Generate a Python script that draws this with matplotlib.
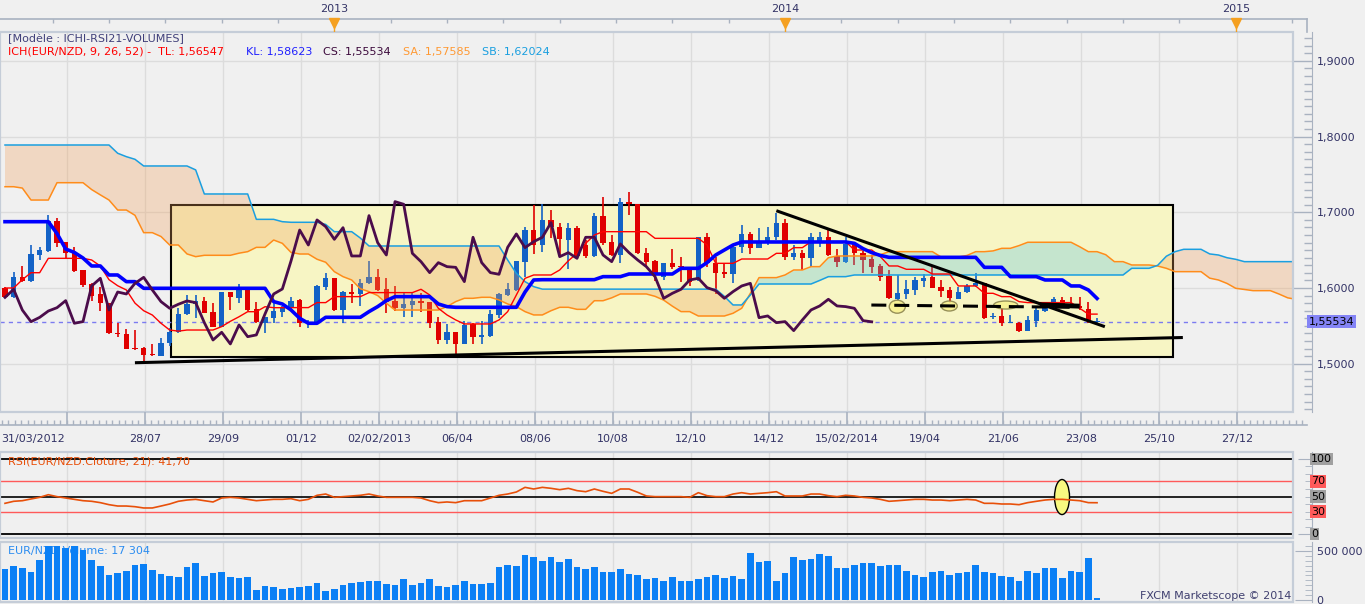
import numpy as np
import matplotlib
matplotlib.use("Agg")
import matplotlib.pyplot as plt
from matplotlib.patches import Rectangle, Ellipse
from matplotlib.ticker import MultipleLocator, FuncFormatter, FixedLocator

plt.rcParams['font.family'] = ['DejaVu Sans']
plt.rcParams['font.size'] = 8

# ---------------- data (weekly EUR/NZD) ----------------
opens = [1.5995,1.5885,1.6150,1.6097,1.6436,1.6493,1.6885,1.6603,1.6467,1.6238,
         1.6048,1.5916,1.5797,1.5410,1.5392,1.5207,1.5203,1.5124,1.5106,1.5269,
         1.5414,1.5652,1.5784,1.5832,1.5678,1.5489,1.5943,1.5872,1.5982,1.5718,
         1.5542,1.5608,1.5687,1.5741,1.5842,1.5525,1.5556,1.6018,1.6128,1.5710,
         1.5943,1.5921,1.6062,1.6141,1.5987,1.5829,1.5741,1.5776,1.5833,1.5816,
         1.5551,1.5313,1.5415,1.5261,1.5520,1.5357,1.5366,1.5648,1.5912,1.5974,
         1.6348,1.6766,1.6568,1.6899,1.6811,1.6634,1.6789,1.6568,1.6423,1.6956,
         1.6612,1.6436,1.7141,1.7110,1.6458,1.6357,1.6150,1.6326,1.6295,1.6260,
         1.6106,1.6670,1.6335,1.6216,1.6181,1.6538,1.6714,1.6533,1.6590,1.6670,
         1.6855,1.6414,1.6467,1.6392,1.6612,1.6670,1.6423,1.6348,1.6582,1.6467,
         1.6383,1.6291,1.6159,1.5851,1.5921,1.5974,1.6097,1.6141,1.6009,1.5974,
         1.5855,1.5952,1.6027,1.6062,1.5613,1.5631,1.5542,1.5542,1.5437,1.5569,
         1.5701,1.5763,1.5842,1.5776,1.5763,1.5723,1.5545]
highs = [1.6017,1.6216,1.6291,1.6568,1.6546,1.6964,1.6929,1.6612,1.6537,1.6238,
         1.6061,1.6017,1.5797,1.5533,1.5454,1.5445,1.5216,1.5260,1.5335,1.5467,
         1.5731,1.5907,1.5907,1.5885,1.5797,1.5951,1.5951,1.6053,1.6008,1.5819,
         1.5621,1.5797,1.5762,1.5877,1.5851,1.5578,1.6040,1.6203,1.6137,1.5961,
         1.6053,1.6119,1.6361,1.6247,1.6137,1.6027,1.5930,1.5930,1.5930,1.5816,
         1.5622,1.5520,1.5424,1.5565,1.5542,1.5569,1.5710,1.5930,1.6062,1.6357,
         1.6811,1.7097,1.7110,1.7031,1.6863,1.6855,1.6819,1.6634,1.6987,1.7207,
         1.6700,1.7185,1.7273,1.7110,1.6524,1.6370,1.6335,1.6511,1.6414,1.6273,
         1.6678,1.6731,1.6405,1.6326,1.6568,1.6833,1.6744,1.6789,1.6811,1.6995,
         1.6907,1.6568,1.6502,1.6722,1.6744,1.6766,1.6511,1.6678,1.6612,1.6494,
         1.6436,1.6317,1.6238,1.6172,1.6106,1.6141,1.6185,1.6273,1.6106,1.6018,
         1.6009,1.6053,1.6194,1.6071,1.5675,1.5732,1.5644,1.5556,1.5631,1.5763,
         1.5807,1.5877,1.5877,1.5877,1.5877,1.5820,1.5600]
lows = [1.5863,1.5863,1.6084,1.6084,1.6370,1.6480,1.6546,1.6392,1.6216,1.6017,
        1.5832,1.5700,1.5392,1.5357,1.5190,1.5181,1.4991,1.5106,1.5106,1.5234,
        1.5401,1.5643,1.5599,1.5665,1.5480,1.5480,1.5709,1.5806,1.5700,1.5533,
        1.5410,1.5542,1.5612,1.5701,1.5490,1.5468,1.5542,1.5974,1.5701,1.5534,
        1.5798,1.5763,1.6053,1.5965,1.5666,1.5701,1.5622,1.5613,1.5688,1.5476,
        1.5256,1.5256,1.5128,1.5256,1.5256,1.5261,1.5357,1.5600,1.5895,1.5965,
        1.6141,1.6450,1.6480,1.6656,1.6414,1.6247,1.6405,1.6392,1.6414,1.6568,
        1.6423,1.6335,1.6965,1.6449,1.6273,1.6097,1.6106,1.6247,1.6084,1.6031,
        1.6097,1.6273,1.5921,1.6128,1.6071,1.6458,1.6449,1.6524,1.6568,1.6634,
        1.6370,1.6370,1.6238,1.6273,1.6546,1.6423,1.6273,1.6326,1.6304,1.6203,
        1.6203,1.6097,1.5851,1.5842,1.5851,1.5908,1.6018,1.5996,1.5877,1.5798,
        1.5851,1.5930,1.6009,1.5587,1.5587,1.5498,1.5542,1.5424,1.5437,1.5481,
        1.5688,1.5732,1.5732,1.5732,1.5710,1.5542,1.5534]
closes = [1.5885,1.6150,1.6097,1.6449,1.6502,1.6885,1.6599,1.6458,1.6229,1.6040,
          1.5899,1.5797,1.5401,1.5388,1.5198,1.5194,1.5119,1.5110,1.5269,1.5414,
          1.5656,1.5788,1.5832,1.5674,1.5489,1.5943,1.5876,1.5982,1.5709,1.5555,
          1.5612,1.5696,1.5740,1.5833,1.5534,1.5556,1.6027,1.6128,1.5710,1.5947,
          1.5921,1.6062,1.6141,1.5974,1.5820,1.5732,1.5785,1.5829,1.5807,1.5542,
          1.5313,1.5415,1.5261,1.5512,1.5357,1.5380,1.5657,1.5921,1.5987,1.6357,
          1.6766,1.6568,1.6899,1.6811,1.6643,1.6797,1.6423,1.6423,1.6956,1.6599,
          1.6436,1.7141,1.7106,1.6458,1.6348,1.6203,1.6335,1.6282,1.6273,1.6084,
          1.6670,1.6335,1.6203,1.6181,1.6538,1.6714,1.6533,1.6612,1.6670,1.6863,
          1.6414,1.6467,1.6392,1.6670,1.6670,1.6436,1.6348,1.6582,1.6467,1.6370,
          1.6282,1.6150,1.5864,1.5930,1.5983,1.6106,1.6128,1.6005,1.5965,1.5864,
          1.5952,1.6027,1.6062,1.5608,1.5631,1.5542,1.5556,1.5437,1.5578,1.5710,
          1.5763,1.5851,1.5763,1.5754,1.5732,1.5569,1.55534]

tenkan = [1.6000,1.6000,1.6110,1.6202,1.6202,1.6392,1.6392,1.6392,1.6392,1.6392,
          1.6370,1.6290,1.6110,1.6030,1.5974,1.5800,1.5700,1.5643,1.5534,1.5445,
          1.5430,1.5445,1.5445,1.5445,1.5445,1.5490,1.5560,1.5620,1.5687,1.5687,
          1.5753,1.5740,1.5740,1.5741,1.5741,1.5741,1.5807,1.5807,1.5886,1.5886,
          1.5886,1.5886,1.5939,1.5939,1.5939,1.5939,1.5939,1.5939,1.5983,1.5908,
          1.5732,1.5644,1.5578,1.5525,1.5525,1.5525,1.5525,1.5578,1.5688,1.5908,
          1.6128,1.6172,1.6172,1.6172,1.6238,1.6360,1.6458,1.6590,1.6700,1.6744,
          1.6744,1.6744,1.6744,1.6744,1.6744,1.6656,1.6656,1.6656,1.6656,1.6656,
          1.6656,1.6570,1.6326,1.6326,1.6326,1.6383,1.6383,1.6383,1.6383,1.6458,
          1.6458,1.6533,1.6533,1.6612,1.6612,1.6612,1.6612,1.6612,1.6502,1.6502,
          1.6502,1.6414,1.6291,1.6291,1.6247,1.6247,1.6247,1.6185,1.6185,1.6185,
          1.6027,1.6027,1.6027,1.5930,1.5930,1.5886,1.5886,1.5820,1.5807,1.5807,
          1.5807,1.5807,1.5807,1.5807,1.5732,1.5655,1.5655]
kijun = [1.6876,1.6876,1.6876,1.6876,1.6876,1.6876,1.6720,1.6515,1.6470,1.6396,
         1.6291,1.6291,1.6172,1.6172,1.6084,1.6084,1.5996,1.5996,1.5996,1.5996,
         1.5996,1.5996,1.5996,1.5996,1.5996,1.5996,1.5996,1.5996,1.5996,1.5996,
         1.5996,1.5820,1.5789,1.5710,1.5600,1.5534,1.5534,1.5613,1.5613,1.5613,
         1.5613,1.5613,1.5688,1.5754,1.5833,1.5886,1.5886,1.5886,1.5886,1.5886,
         1.5789,1.5754,1.5745,1.5745,1.5745,1.5745,1.5745,1.5745,1.5745,1.5745,
         1.5947,1.6106,1.6110,1.6110,1.6110,1.6110,1.6110,1.6110,1.6110,1.6150,
         1.6150,1.6150,1.6185,1.6185,1.6185,1.6185,1.6185,1.6185,1.6260,1.6260,
         1.6260,1.6335,1.6436,1.6502,1.6568,1.6608,1.6608,1.6608,1.6608,1.6608,
         1.6608,1.6608,1.6608,1.6608,1.6608,1.6608,1.6608,1.6608,1.6590,1.6520,
         1.6467,1.6430,1.6405,1.6405,1.6405,1.6405,1.6405,1.6405,1.6405,1.6405,
         1.6405,1.6405,1.6405,1.6273,1.6273,1.6273,1.6150,1.6150,1.6150,1.6150,
         1.6106,1.6106,1.6106,1.6027,1.6027,1.5974,1.5862]
span_a = [1.7338,1.7338,1.7320,1.7162,1.7162,1.7162,1.7391,1.7391,1.7391,1.7391,
          1.7300,1.7230,1.7162,1.7030,1.7030,1.6960,1.6731,1.6731,1.6680,1.6568,
          1.6568,1.6450,1.6414,1.6432,1.6432,1.6432,1.6432,1.6460,1.6480,1.6537,
          1.6537,1.6634,1.6590,1.6470,1.6449,1.6449,1.6380,1.6340,1.6216,1.6150,
          1.6106,1.5990,1.5952,1.5900,1.5798,1.5709,1.5709,1.5709,1.5709,1.5709,
          1.5709,1.5754,1.5820,1.5864,1.5864,1.5877,1.5877,1.5842,1.5789,1.5754,
          1.5688,1.5644,1.5644,1.5700,1.5745,1.5745,1.5718,1.5718,1.5832,1.5832,
          1.5870,1.5921,1.5921,1.5921,1.5921,1.5890,1.5840,1.5760,1.5688,1.5688,
          1.5630,1.5630,1.5630,1.5630,1.5666,1.5732,1.5930,1.6137,1.6137,1.6137,
          1.6172,1.6238,1.6238,1.6282,1.6282,1.6400,1.6423,1.6423,1.6423,1.6423,
          1.6423,1.6440,1.6480,1.6480,1.6480,1.6480,1.6480,1.6480,1.6410,1.6410,
          1.6410,1.6430,1.6480,1.6480,1.6490,1.6524,1.6524,1.6560,1.6604,1.6604,
          1.6604,1.6604,1.6604,1.6604,1.6545,1.6480,1.6480,1.6440,1.6348,1.6348,
          1.6304,1.6304,1.6304,1.6290,1.6260,1.6216,1.6216,1.6216,1.6216,1.6130,
          1.6106,1.6060,1.5996,1.5980,1.5965,1.5965,1.5965,1.5920,1.5870,1.5850,
          1.5800,1.5780,1.57585]
span_b = [1.7889,1.7889,1.7889,1.7889,1.7889,1.7889,1.7889,1.7889,1.7889,1.7889,
          1.7889,1.7889,1.7889,1.7780,1.7735,1.7700,1.7612,1.7612,1.7612,1.7612,
          1.7612,1.7612,1.7560,1.7242,1.7242,1.7242,1.7242,1.7242,1.7242,1.6907,
          1.6907,1.6907,1.6876,1.6868,1.6868,1.6868,1.6868,1.6840,1.6744,1.6744,
          1.6744,1.6660,1.6555,1.6555,1.6555,1.6555,1.6555,1.6555,1.6555,1.6555,
          1.6555,1.6555,1.6555,1.6555,1.6555,1.6555,1.6555,1.6555,1.6370,1.6194,
          1.6084,1.6018,1.5985,1.5985,1.5985,1.5985,1.5985,1.5985,1.5985,1.5985,
          1.5985,1.5985,1.5985,1.5985,1.5985,1.5985,1.5985,1.5985,1.5985,1.5985,
          1.5985,1.5985,1.5985,1.5890,1.5776,1.5776,1.5908,1.6053,1.6053,1.6053,
          1.6053,1.6053,1.6053,1.6053,1.6100,1.6150,1.6150,1.6150,1.6172,1.6172,
          1.6172,1.6172,1.6172,1.6172,1.6172,1.6172,1.6172,1.6172,1.6172,1.6172,
          1.6172,1.6172,1.6172,1.6172,1.6172,1.6172,1.6172,1.6172,1.6172,1.6172,
          1.6172,1.6172,1.6172,1.6172,1.6172,1.6172,1.6172,1.6172,1.6172,1.6172,
          1.6260,1.6260,1.6260,1.6300,1.6420,1.6480,1.6511,1.6511,1.6511,1.6450,
          1.6436,1.6400,1.6379,1.6348,1.6348,1.6348,1.6348,1.6348,1.6348,1.6348,
          1.6348,1.6348,1.6348]
rsi = [40.9,43.6,44.4,46.7,48.9,52.4,49.8,48.0,46.2,44.4,
       43.6,41.8,39.1,37.3,37.3,36.4,34.7,34.7,37.3,40.0,
       43.6,45.3,46.2,44.4,42.7,48.0,48.9,48.0,46.2,44.4,
       45.3,46.2,46.2,47.1,44.4,46.2,51.6,53.3,48.9,49.8,
       50.7,51.6,53.3,50.7,48.9,48.9,48.9,48.9,48.0,44.4,
       41.8,42.7,41.8,44.4,44.4,44.4,48.0,51.6,53.3,56.0,
       62.2,60.0,62.2,60.9,59.1,60.9,57.8,56.4,60.0,56.9,
       54.2,60.0,60.0,55.6,50.7,49.8,49.8,49.8,49.8,48.9,
       55.1,51.1,49.8,49.8,53.3,55.1,53.3,54.2,55.1,56.4,
       50.7,50.7,50.7,53.3,53.3,51.1,49.8,51.6,50.7,48.9,
       48.0,46.2,43.6,44.4,45.3,46.2,46.2,45.3,45.3,44.4,
       45.3,46.2,45.3,40.9,40.9,40.0,40.0,39.1,41.8,43.6,
       45.3,46.2,46.2,45.3,44.4,41.8,41.7]
volume_k = [316,347,326,286,408,547,551,530,551,510,
            408,347,255,275,296,357,367,306,265,245,
            235,337,377,245,275,286,235,224,235,102,
            143,133,112,122,133,143,173,92,112,153,
            173,184,194,194,163,153,214,153,173,214,
            143,136,153,194,163,163,173,337,357,347,
            459,439,398,439,388,418,337,316,337,286,
            286,316,265,255,214,224,194,235,194,194,
            217,237,257,227,247,217,477,387,397,197,
            277,437,407,417,467,447,327,327,357,377,
            377,347,357,357,297,257,237,287,297,257,
            277,287,357,287,277,247,237,197,297,277,
            327,327,227,297,287,427,17.3]

price_ticks = [1.5, 1.6, 1.7, 1.8, 1.9]
last_price = 1.55534
date_labels = ['28/07', '29/09', '01/12', '02/02/2013', '06/04', '08/06', '10/08',
               '12/10', '14/12', '15/02/2014', '19/04', '21/06', '23/08', '25/10', '27/12']
first_date_label = '31/03/2012'
grid_pos = [8.15, 17.15, 26.15, 35.15, 44.15, 53.15, 62.15, 71.15, 80.15, 89.15,
            98.15, 107.15, 116.15, 125.15, 134.15, 143.15]
years = ['2013', '2014', '2015']
year_pos = [39.0, 91.0, 143.0]
shift = 26

# ---------------- layout helpers ----------------
W, H = 1365, 604
BG = '#f0f0f0'
BORDER = '#c5cdd8'
AXC = '#a9b2c0'
TXT = '#333366'
GRID = '#dcdcdc'
PX = 8.667
X0 = 1 - 5 / PX


def xl(width_px):
    return (X0, X0 + width_px / PX)


fig = plt.figure(figsize=(W / 100, H / 100), dpi=100, facecolor=BG)


def axes_px(x0, y0, x1, y1):
    a = fig.add_axes([x0 / W, 1 - y1 / H, (x1 - x0) / W, (y1 - y0) / H])
    a.set_facecolor(BG)
    return a


def panel_style(a):
    for s in ['left', 'top', 'bottom']:
        a.spines[s].set_visible(False)
    a.spines['right'].set_position(('outward', 14))
    a.spines['right'].set_color(AXC)
    a.yaxis.tick_right()
    a.set_xticks([])
    a.add_patch(Rectangle((0, 0), 1, 1, transform=a.transAxes, fill=False,
                          ec=BORDER, lw=1.6, clip_on=False, zorder=20))
    for g in grid_pos:
        a.axvline(g, color=GRID, lw=1, zorder=0)


idx = np.arange(1, len(closes) + 1)
cidx = np.arange(1, len(span_a) + 1)
o = np.array(opens); c = np.array(closes)
hi = np.array(highs); lo = np.array(lows)
sa = np.array(span_a); sb = np.array(span_b)

# ---------------- main panel ----------------
ax = axes_px(0, 32, 1293, 412)
ax.set_xlim(*xl(1293))
ax.set_ylim(1.6 - 124 / 757, 1.6 + 256 / 757)
panel_style(ax)
ax.set_yticks(price_ticks)
ax.yaxis.set_major_formatter(FuncFormatter(lambda v, p: f'{v:.4f}'.replace('.', ',')))
ax.yaxis.set_minor_locator(MultipleLocator(0.01))
ax.tick_params(axis='y', which='major', direction='in', length=14, width=1,
               color=AXC, labelsize=8, labelcolor=TXT, pad=3)
ax.tick_params(axis='y', which='minor', direction='in', length=6, width=1, color=AXC)
for p in price_ticks:
    ax.axhline(p, color=GRID, lw=1, zorder=0)

# yellow annotation rectangle
ax.add_patch(Rectangle((20.15, 1.5088), 135.8 - 20.15, 1.7096 - 1.5088,
                       facecolor='#f7f5c4', edgecolor='black', lw=1.5, zorder=1))

# candles
up = c >= o
cols = np.where(up, '#1362c6', '#e00000')
body_lo = np.minimum(o, c)
body_h = np.maximum(np.abs(c - o), 0.0013)
ax.vlines(idx, lo, hi, colors=cols, lw=1.2, zorder=3)
ax.bar(idx, body_h, bottom=body_lo, width=0.62, color=cols, zorder=3, linewidth=0)

# cloud
ax.fill_between(cidx, sa, sb, where=sa >= sb, interpolate=True,
                color='#54c3e6', alpha=0.3, lw=0, zorder=4)
ax.fill_between(cidx, sa, sb, where=sa < sb, interpolate=True,
                color='#f0a05a', alpha=0.3, lw=0, zorder=4)
ax.plot(cidx, sa, color='#ff8c1a', lw=1.1, zorder=5)
ax.plot(cidx, sb, color='#1a9fe0', lw=1.1, zorder=5)

# tenkan / kijun / chikou
ax.plot(idx, tenkan, color='#ff0000', lw=1.0, zorder=6)
ax.plot(idx, kijun, color='#0000ff', lw=2.6, zorder=6)
ax.plot(idx[:-shift], c[shift:], color='#4b0c4b', lw=2.0, zorder=6)

# current price line
ax.axhline(last_price, color='#7b7bf0', lw=1, ls=(0, (3, 3)), zorder=2)

# trend lines and marks
ax.add_patch(Ellipse((103.95, 1.5753), 1.85, 0.0172, facecolor='#f8f190',
                     edgecolor='#8d8650', lw=1, alpha=0.9, zorder=7))
ax.add_patch(Ellipse((109.95, 1.5762), 1.85, 0.0132, facecolor='#f8f190',
                     edgecolor='#8d8650', lw=1, alpha=0.9, zorder=7))
ax.add_patch(Ellipse((116.46, 1.5775), 2.77, 0.0106, facecolor='#f8f190',
                     edgecolor='#8d8650', lw=1, alpha=0.9, zorder=7))
ax.plot([15.99, 136.9], [1.5013, 1.5346], color='black', lw=2.2, zorder=8,
        solid_capstyle='butt')
ax.plot([90.0, 127.9], [1.7021, 1.5489], color='black', lw=2.2, zorder=8,
        solid_capstyle='butt')
ax.plot([100.96, 124.2], [1.5775, 1.5745], color='black', lw=2.2,
        ls=(0, (4.9, 2.6)), zorder=8)
ax.plot([120.4, 125.0], [1.5778, 1.5760], color='black', lw=3.5, zorder=8,
        solid_capstyle='butt')

# price tag
ax.text(1309 / 1293, last_price, f'{last_price:.5f}'.replace('.', ','),
        transform=ax.get_yaxis_transform(), ha='left', va='center', fontsize=8,
        color='black', clip_on=False, zorder=30,
        bbox=dict(boxstyle='square,pad=0.15', fc='#8484f6', ec='none'))

# legends
ax.text(8 / 1293, (412 - 39) / 380, '[Modèle : ICHI-RSI21-VOLUMES]',
        transform=ax.transAxes, color='#40407a', fontsize=8, va='center', zorder=30)
leg_y = (412 - 52) / 380
for xp, t, col in [(8, 'ICH(EUR/NZD, 9, 26, 52) -  TL: 1,56547', '#ff0000'),
                   (246, 'KL: 1,58623', '#2020ff'),
                   (323, 'CS: 1,55534', '#3c0a3c'),
                   (403, 'SA: 1,57585', '#ff9933'),
                   (482, 'SB: 1,62024', '#1a9fe0')]:
    ax.text(xp / 1293, leg_y, t, transform=ax.transAxes, color=col, fontsize=8,
            va='center', zorder=30)

# ---------------- top date strip ----------------
axt = axes_px(0, 18, 1307, 32)
axt.set_xlim(*xl(1307)); axt.set_ylim(14, 0)
axt.axis('off')
xr = xl(1307)[1]
axt.plot([X0, xr], [0.5, 0.5], color=AXC, lw=1.2, clip_on=False)
axt.plot([xr - 0.05, xr - 0.05], [0.5, 14], color=AXC, lw=1.2, clip_on=False)
tt = [year_pos[0] + 6.5 * k for k in range(-6, 20)]
tt = [t for t in tt if X0 < t < xr]
axt.vlines(tt, 0.5, 5, color=AXC, lw=1)
axt.vlines(year_pos, 6, 14, color='#f5a020', lw=1)
axt.plot(year_pos, [5.0] * 3, ls='none', marker='v', ms=6.5, color='#f5a020',
         mec='#f5a020', clip_on=False)
for yp, ytxt in zip(year_pos, years):
    axt.text(yp, -9, ytxt, ha='center', va='center', color=TXT, fontsize=8, clip_on=False)

# ---------------- bottom date strip ----------------
axb = axes_px(0, 412, 1307, 425)
axb.set_xlim(*xl(1307)); axb.set_ylim(13, 0)
axb.axis('off')
axb.plot([X0, xr], [12.5, 12.5], color=AXC, lw=1.2, clip_on=False)
mt = [grid_pos[0] + 0.75 * k for k in range(-12, 200)]
mt = [t for t in mt if X0 < t < xr]
axb.vlines(mt, 8, 12.5, color=AXC, lw=1)
axb.vlines(grid_pos, 0, 12.5, color=AXC, lw=1.2)
axb.text(X0 + 1 / PX, 27, first_date_label, ha='left', va='center', color=TXT,
         fontsize=8, clip_on=False)
for gp, lab in zip(grid_pos[1:], date_labels):
    axb.text(gp, 27, lab, ha='center', va='center', color=TXT, fontsize=8, clip_on=False)

# ---------------- RSI panel ----------------
ar = axes_px(0, 452, 1293, 538)
ar.set_xlim(*xl(1293)); ar.set_ylim(-5.33, 109.33)
panel_style(ar)
ar.yaxis.set_major_locator(FixedLocator([0, 100]))
ar.yaxis.set_minor_locator(MultipleLocator(10))
ar.set_yticklabels([])
ar.tick_params(axis='y', which='major', direction='in', length=10, color=AXC)
ar.tick_params(axis='y', which='minor', direction='in', length=5, color=AXC)
for lvl, col, lw in [(100, 'black', 1.3), (0, 'black', 1.3), (50, 'black', 1.2),
                     (70, '#ff5a5a', 1.0), (30, '#ff5a5a', 1.0)]:
    ar.axhline(lvl, color=col, lw=lw, zorder=1)
ar.add_patch(Ellipse((122.96, 49.3), 1.73, 46.7, facecolor='#f8f880',
                     edgecolor='black', lw=1, zorder=2))
ar.plot(idx, rsi, color='#e8500a', lw=1.2, zorder=3)
ar.text(8 / 1293, (538 - 462) / 86, 'RSI(EUR/NZD.Cloture, 21): 41,70',
        transform=ar.transAxes, color='#e8500a', fontsize=8, va='center', zorder=4)
for lvl, fc in [(100, '#a0a0a0'), (70, '#ff5a5a'), (50, '#a0a0a0'),
                (30, '#ff5a5a'), (0, '#a0a0a0')]:
    ar.text(1311 / 1293, lvl, str(lvl), transform=ar.get_yaxis_transform(),
            ha='left', va='center', fontsize=8, color='black', clip_on=False,
            bbox=dict(boxstyle='square,pad=0.12', fc=fc, ec='none'))

# ---------------- volume panel ----------------
av = axes_px(0, 542, 1293, 602)
av.set_xlim(*xl(1293)); av.set_ylim(-20.4, 591.8)
panel_style(av)
av.yaxis.set_major_locator(FixedLocator([0, 500]))
av.yaxis.set_major_formatter(FuncFormatter(lambda v, p: '500 000' if v > 0 else '0'))
av.yaxis.set_minor_locator(MultipleLocator(50))
av.tick_params(axis='y', which='major', direction='in', length=12, color=AXC,
               labelsize=8, labelcolor=TXT, pad=3)
av.tick_params(axis='y', which='minor', direction='in', length=5, color=AXC)
av.text(8 / 1293, (602 - 551) / 60, 'EUR/NZD Volume: 17 304', transform=av.transAxes,
        color='#2a8cf0', fontsize=8, va='center', zorder=1)
av.bar(idx, volume_k, width=0.78, color='#0a7ff5', linewidth=0, zorder=2)

fig.text(1291 / W, 1 - 596 / H, 'FXCM Marketscope © 2014', ha='right', va='center',
         color='#404070', fontsize=8)

fig.savefig('out.png', dpi=100, facecolor=BG)
